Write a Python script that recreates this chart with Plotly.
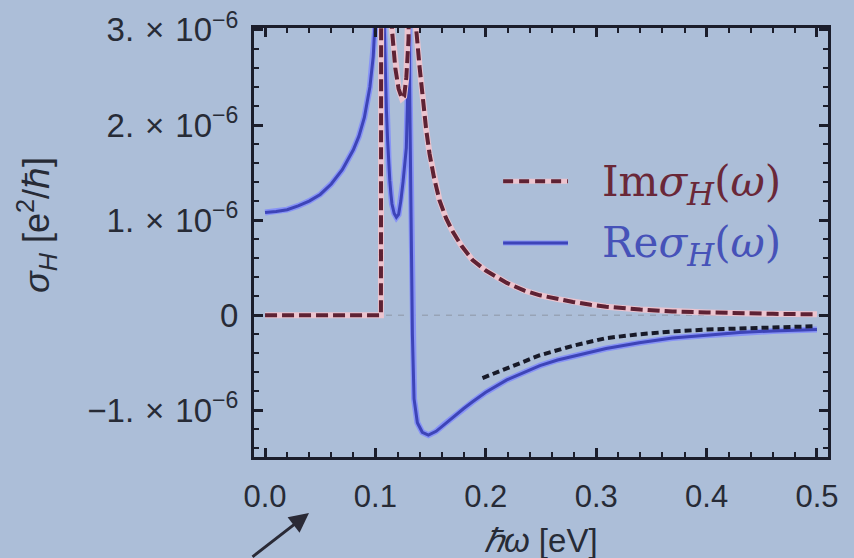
import plotly.graph_objects as go

# ---- data (units of 1e-6 e^2/hbar) ----
re_x = [0.0, 0.01, 0.02, 0.03, 0.04, 0.05, 0.06, 0.07, 0.08, 0.085, 0.09, 0.095, 0.098, 0.1, 0.1015,
        0.107, 0.108, 0.109, 0.110, 0.111, 0.112, 0.113, 0.114, 0.115, 0.117, 0.119, 0.121, 0.123,
        0.125, 0.127, 0.128, 0.129, 0.1298,
        0.1305, 0.131, 0.1325, 0.1335, 0.135, 0.138, 0.1425, 0.148, 0.155, 0.162, 0.170, 0.180,
        0.188, 0.200, 0.219, 0.235, 0.249, 0.265, 0.279, 0.295, 0.309, 0.339, 0.369, 0.400,
        0.430, 0.460, 0.500]
re_y = [1.08, 1.09, 1.11, 1.15, 1.20, 1.27, 1.38, 1.53, 1.74, 1.88, 2.08, 2.40, 2.72, 3.05, 3.5,
        3.5, 3.0, 2.5, 2.15, 1.85, 1.6, 1.42, 1.28, 1.17, 1.07, 1.03, 1.06, 1.2,
        1.4, 1.62, 1.76, 2.2, 3.5,
        3.5, 2.4, 0.86, -0.2, -0.88, -1.13, -1.23, -1.26, -1.22, -1.15, -1.07, -0.98,
        -0.91, -0.81, -0.68, -0.60, -0.53, -0.47, -0.43, -0.39, -0.35, -0.29, -0.24, -0.21,
        -0.18, -0.165, -0.15]

im_x = [0.0, 0.05, 0.105, 0.1052, 0.114, 0.115, 0.118, 0.121, 0.124, 0.126, 0.128, 0.130, 0.1305,
        0.136, 0.137, 0.140, 0.143, 0.146, 0.149, 0.153, 0.158, 0.164, 0.170, 0.178, 0.188, 0.200,
        0.219, 0.235, 0.249, 0.265, 0.279, 0.295, 0.309, 0.340, 0.369, 0.400, 0.430, 0.460, 0.500]
im_y = [0.0, 0.0, 0.0, 3.5, 3.5, 3.0, 2.6, 2.38, 2.28, 2.3, 2.5, 2.9, 3.5,
        3.5, 3.0, 2.61, 2.25, 1.95, 1.70, 1.45, 1.21, 1.02, 0.88, 0.73, 0.58, 0.47,
        0.34, 0.26, 0.21, 0.17, 0.14, 0.11, 0.09, 0.06, 0.04, 0.03, 0.02, 0.015, 0.01]

asym_x = [0.197, 0.219, 0.249, 0.279, 0.309, 0.339, 0.369, 0.400, 0.430, 0.460, 0.496]
asym_y = [-0.66, -0.56, -0.42, -0.32, -0.24, -0.20, -0.17, -0.15, -0.14, -0.126, -0.116]

x_ticks = [0.0, 0.1, 0.2, 0.3, 0.4, 0.5]
x_tick_labels = ["0.0", "0.1", "0.2", "0.3", "0.4", "0.5"]
y_ticks = [-1e-6, 0.0, 1e-6, 2e-6, 3e-6]
y_tick_labels = ["\u22121.\u2004\u00d7\u200410<sup>\u22126</sup>", "0",
                 "1.\u2004\u00d7\u200410<sup>\u22126</sup>",
                 "2.\u2004\u00d7\u200410<sup>\u22126</sup>",
                 "3.\u2004\u00d7\u200410<sup>\u22126</sup>"]

scale = 1e-6
BG = "#acbed8"
INK = "#272b36"
FRAME = "#1b1d2b"

fig = go.Figure()

def sc(v):
    return [a * scale for a in v]

# Re: halo + core
fig.add_trace(go.Scatter(x=re_x, y=sc(re_y), mode="lines", line=dict(color="#8793f6", width=6),
                         hoverinfo="skip", showlegend=False))
fig.add_trace(go.Scatter(x=re_x, y=sc(re_y), mode="lines", line=dict(color="#3d44b8", width=3),
                         name="Re", showlegend=False))
# Im: pink underlay + dark dashes
fig.add_trace(go.Scatter(x=im_x, y=sc(im_y), mode="lines", line=dict(color="#ecc4cf", width=6),
                         hoverinfo="skip", showlegend=False))
fig.add_trace(go.Scatter(x=im_x, y=sc(im_y), mode="lines",
                         line=dict(color="#5e2234", width=4, dash="12px,5px"),
                         name="Im", showlegend=False))
# asymptote
fig.add_trace(go.Scatter(x=asym_x, y=sc(asym_y), mode="lines",
                         line=dict(color="#181a28", width=4, dash="7px,4px"),
                         name="asym", showlegend=False))

# zero reference line
fig.add_shape(type="line", xref="paper", x0=0, x1=1, yref="y", y0=0, y1=0,
              line=dict(color="#97a3b6", width=1.5, dash="6px,6px"), layer="below")

# legend (drawn manually)
lx0, lx1 = 0.434, 0.547
fig.add_shape(type="line", xref="paper", yref="paper", x0=lx0, x1=lx1, y0=0.643, y1=0.643,
              line=dict(color="#ecc4cf", width=5))
fig.add_shape(type="line", xref="paper", yref="paper", x0=lx0, x1=lx1, y0=0.643, y1=0.643,
              line=dict(color="#5e2234", width=4, dash="10px,6px"))
fig.add_shape(type="line", xref="paper", yref="paper", x0=lx0, x1=lx1, y0=0.499, y1=0.499,
              line=dict(color="#8793f6", width=5))
fig.add_shape(type="line", xref="paper", yref="paper", x0=lx0, x1=lx1, y0=0.499, y1=0.499,
              line=dict(color="#3d44b8", width=3))
sub_h = "<sub><span style=\"font-size:31px\"><i>H</i></span></sub>"
fig.add_annotation(xref="paper", yref="paper", x=0.602, y=0.636, xanchor="left", yanchor="middle",
                   text="Im<i>\u03c3</i>" + sub_h + "(<i>\u03c9</i>)", showarrow=False,
                   font=dict(family="DejaVu Serif", size=42, color="#6a2838"))
fig.add_annotation(xref="paper", yref="paper", x=0.602, y=0.492, xanchor="left", yanchor="middle",
                   text="Re<i>\u03c3</i>" + sub_h + "(<i>\u03c9</i>)", showarrow=False,
                   font=dict(family="DejaVu Serif", size=42, color="#4652b8"))

# axis titles
fig.add_annotation(xref="paper", yref="paper", x=(36 - 254) / 574, y=(457 - 225) / 429,
                   text="<i>\u03c3</i><sub><i>H</i></sub> [e<sup>2</sup>/\u210f]", textangle=-90,
                   showarrow=False, xanchor="center", yanchor="middle",
                   font=dict(family="Liberation Sans", size=36, color=INK))
fig.add_annotation(xref="paper", yref="paper", x=0.5, y=(457 - 540) / 429,
                   text="<i>\u210f\u03c9</i> [eV]", showarrow=False, xanchor="center", yanchor="middle",
                   font=dict(family="Liberation Sans", size=33, color=INK))

# pointer arrow from the slide
fig.add_annotation(xref="paper", yref="paper", x=(309 - 254) / 574, y=(457 - 513) / 429,
                   ax=-58, ay=50, text="", showarrow=True, arrowhead=2, arrowsize=1.3,
                   arrowwidth=3, arrowcolor="#2a2a36")

axis_common = dict(showline=True, linewidth=3, linecolor=FRAME, mirror="ticks",
                   ticks="inside", ticklen=9, tickwidth=2.5, tickcolor=FRAME,
                   showgrid=False, zeroline=False, automargin=False)

fig.update_xaxes(range=[-0.01, 0.51], tickvals=x_ticks, ticktext=x_tick_labels,
                 tickfont=dict(family="Liberation Sans", size=31, color=INK),
                 minor=dict(ticks="inside", ticklen=5, tickwidth=2, tickcolor=FRAME, dtick=0.02,
                            tick0=0, showgrid=False),
                 ticklabelstandoff=10, **axis_common)
fig.update_yaxes(range=[-1.49e-6, 3.02e-6], tickvals=y_ticks, ticktext=y_tick_labels,
                 tickfont=dict(family="Liberation Sans", size=33, color=INK),
                 minor=dict(ticks="inside", ticklen=5, tickwidth=2, tickcolor=FRAME, dtick=0.2e-6,
                            tick0=0, showgrid=False),
                 ticklabelstandoff=6, **axis_common)

fig.update_layout(width=854, height=558, margin=dict(l=254, r=26, t=28, b=101),
                  paper_bgcolor=BG, plot_bgcolor=BG, showlegend=False)

fig.write_html("out.html", config={"displayModeBar": False},
               post_script="document.body.style.margin='0';document.body.style.overflow='hidden';")
